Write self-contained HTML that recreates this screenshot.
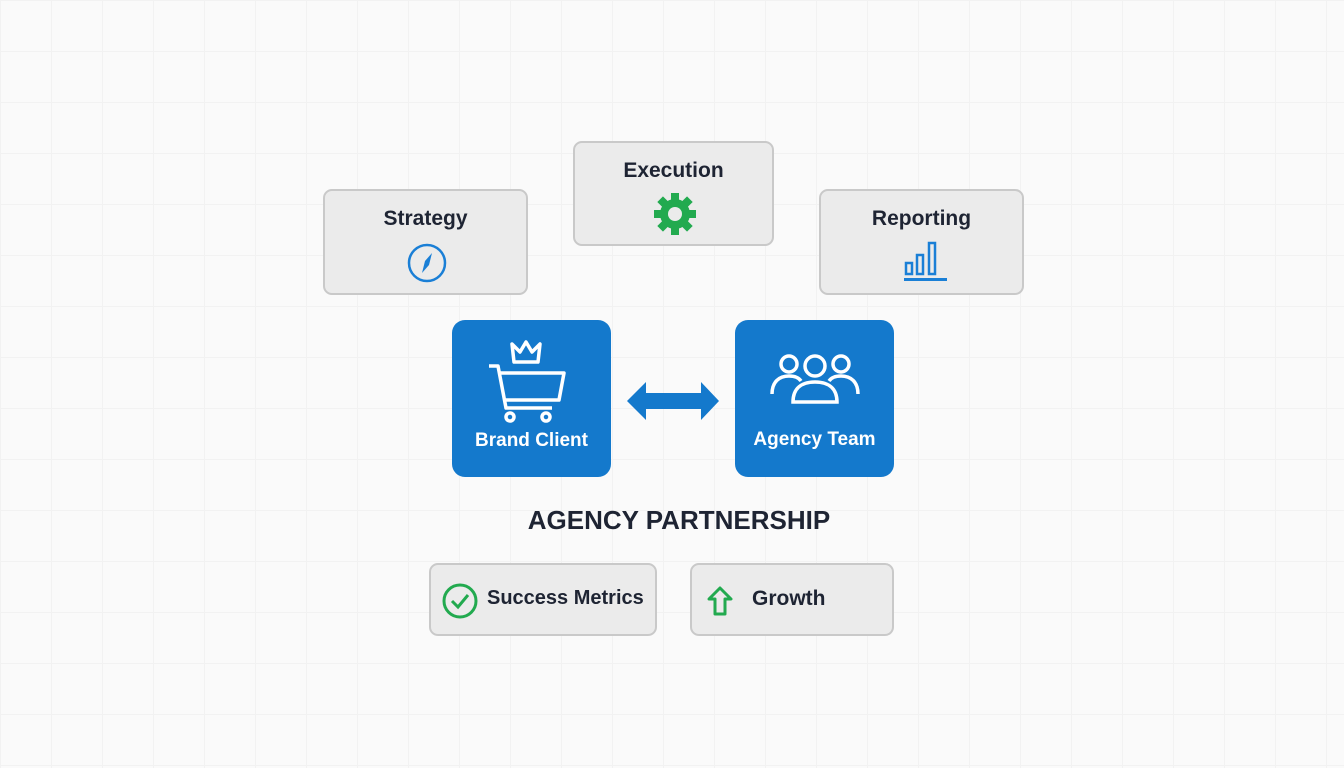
<!DOCTYPE html>
<html><head><meta charset="utf-8"><style>
body{margin:0;width:1344px;height:768px;overflow:hidden;background:#fafafa;font-family:"Liberation Sans",sans-serif;position:relative;
background-image:linear-gradient(#f2f2f2 1px,transparent 1px),linear-gradient(90deg,#f2f2f2 1px,transparent 1px);background-size:51px 51px;}
.g{position:absolute;background:#ebebeb;border:2px solid #c9c9c9;border-radius:9px;box-sizing:border-box;color:#1e2433;font-weight:bold;}
.g .t{position:absolute;left:0;right:0;text-align:center;font-size:21px;}
.b{position:absolute;background:#1479cc;border-radius:13px;color:#fff;font-weight:bold;font-size:19px;}
.b .t{position:absolute;left:0;right:0;text-align:center;}
svg{position:absolute;}
</style></head><body>
<div class="g" style="left:323px;top:189px;width:205px;height:106px"><div class="t" style="top:16px">Strategy</div>
<svg style="left:81px;top:52px" width="42" height="42" viewBox="0 0 42 42"><circle cx="21" cy="20" r="18" fill="none" stroke="#1a7fd6" stroke-width="2.5"/><path d="M26 10 L23 22 L16 30 L19 18 Z" fill="#1a7fd6"/></svg></div>
<div class="g" style="left:573px;top:141px;width:201px;height:105px"><div class="t" style="top:16px">Execution</div>
<svg style="left:78px;top:49px" width="44" height="44" viewBox="0 0 44 44"><g fill="#22aa4f" transform="translate(22 22)"><circle r="15"/><g><rect x="-4" y="-21" width="8" height="42"/><rect x="-4" y="-21" width="8" height="42" transform="rotate(45)"/><rect x="-4" y="-21" width="8" height="42" transform="rotate(90)"/><rect x="-4" y="-21" width="8" height="42" transform="rotate(135)"/></g><circle r="7" fill="#ebebeb"/></g></svg></div>
<div class="g" style="left:819px;top:189px;width:205px;height:106px"><div class="t" style="top:16px">Reporting</div>
<svg style="left:81px;top:48px" width="46" height="46" viewBox="0 0 46 46"><g fill="none" stroke="#1a7fd6" stroke-width="2.5"><rect x="4" y="24" width="6" height="11"/><rect x="15" y="16" width="6" height="19"/><rect x="27" y="4" width="6" height="31"/></g><rect x="2" y="39" width="43" height="3" fill="#1a7fd6"/></svg></div>

<div class="b" style="left:452px;top:320px;width:159px;height:157px">
<svg style="left:34px;top:18px" width="82" height="88" viewBox="0 0 82 88" fill="none" stroke="#fff" stroke-width="3.5" stroke-linejoin="round"><path d="M28 24 L26 6 L34 14 L40 4 L46 14 L54 6 L52 24 Z"/><path d="M3 28 H12 L20 70 H66"/><path d="M13 35 H78 L73 62 H19"/><circle cx="24" cy="79" r="4"/><circle cx="60" cy="79" r="4"/></svg>
<div class="t" style="top:110px">Brand Client</div></div>
<svg style="left:627px;top:380px" width="93" height="42" viewBox="0 0 93 42"><path d="M0 21 L19 2 V13 H74 V2 L92 21 L74 40 V29 H19 V40 Z" fill="#1479cc"/></svg>
<div class="b" style="left:735px;top:320px;width:159px;height:157px">
<svg style="left:34px;top:30px" width="94" height="58" viewBox="0 0 94 58" fill="none" stroke="#fff" stroke-width="3.5"><circle cx="20" cy="14" r="8"/><circle cx="72" cy="14" r="8"/><path d="M3 44 C3 32 10 26 20 26 C26 26 30 28 32 31"/><path d="M89 44 C89 32 82 26 72 26 C66 26 62 28 60 31"/><circle cx="46" cy="16" r="10"/><path d="M24 52 C24 38 33 32 46 32 C59 32 68 38 68 52 Z"/></svg>
<div class="t" style="top:109px">Agency Team</div></div>

<div style="position:absolute;left:0;width:1358px;top:505px;text-align:center;font-size:26px;font-weight:bold;color:#1e2433">AGENCY PARTNERSHIP</div>

<div class="g" style="left:429px;top:563px;width:228px;height:73px"><div style="position:absolute;left:56px;top:22px;font-size:20px">Success Metrics</div>
<svg style="left:10px;top:17px" width="38" height="38" viewBox="0 0 38 38"><circle cx="19" cy="19" r="16" fill="none" stroke="#22aa4f" stroke-width="3"/><path d="M11 19 L17 25 L27 13" fill="none" stroke="#22aa4f" stroke-width="3"/></svg></div>
<div class="g" style="left:690px;top:563px;width:204px;height:73px"><div style="position:absolute;left:60px;top:22px;font-size:21px">Growth</div>
<svg style="left:14px;top:20px" width="28" height="32" viewBox="0 0 28 32"><path d="M14 3 L25 14 H19 V29 H9 V14 H3 Z" fill="none" stroke="#22aa4f" stroke-width="3" stroke-linejoin="round"/></svg></div>
</body></html>
